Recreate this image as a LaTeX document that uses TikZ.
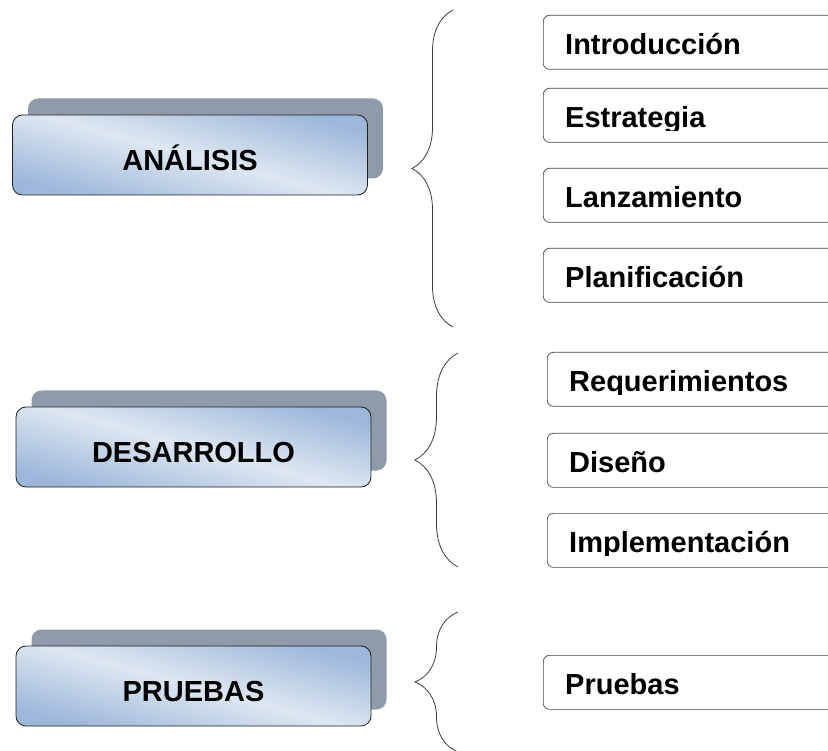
\documentclass[tikz,border=0pt]{standalone}
\usepackage{fontspec}
\setmainfont{Liberation Sans}
\usetikzlibrary{positioning,calc,decorations.pathreplacing,shadows}
\definecolor{phaseshadow}{RGB}{143,155,171}
\definecolor{phaseblue}{RGB}{156,183,217}
\definecolor{phaselight}{RGB}{222,231,243}
\definecolor{lineblack}{RGB}{30,30,30}
\definecolor{bracegray}{RGB}{60,60,60}

\begin{document}
\begin{tikzpicture}[x=1pt, y=-1pt, font=\bfseries\fontsize{29}{31}\selectfont,
		phase/.style={draw=lineblack, line width=0.8pt, rounded corners=10pt, minimum width=355pt, minimum height=80pt, inner sep=0pt, text height=31pt, text depth=0pt, top color=phaseblue, bottom color=phaseblue, middle color=phaselight, shading angle=-15, general shadow={fill=phaseshadow, shadow xshift=15.5pt, shadow yshift=16.5pt}},
		task/.style={draw=lineblack!80, line width=0.7pt, rounded corners=6pt, minimum width=300pt, minimum height=54pt, anchor=north west},
		tasklabel/.style={anchor=base west, inner sep=0pt},
		phasebrace/.style={draw=bracegray, line width=0.8pt, decorate, decoration={brace, amplitude=#1}}]
				\useasboundingbox (0,0) rectangle (828,751);
				\clip (0,0) rectangle (828,751);
				
				% Draw phases
				\node[phase] (analisis) at (190,155) {ANÁLISIS};
				\node[phase] (desarrollo) at (193.5,447) {DESARROLLO};
				\node[phase] (pruebas) at (193.5,686) {PRUEBAS};
				
				% Draw braces
				\draw[phasebrace=41pt] (453,327) -- (453,10);
				\draw[phasebrace=43pt] (458,567) -- (458,353);
				\draw[phasebrace=43pt] (458,752) -- (458,612);
				
				% Analysis tasks
				\node[task] (introduccion) at (543,15) {};
				\node[tasklabel] (introduccionText) at ([xshift=22pt, yshift=15pt]introduccion.south west) {Introducción};
				\node[task] (estrategia) at (543,88) {};
				\begin{scope}
					\clip (estrategia.north west) rectangle ([yshift=12.5pt]estrategia.south east);
					\node[tasklabel] (estrategiaText) at ([xshift=22pt, yshift=15pt]estrategia.south west) {Estrategia};
				\end{scope}
				\node[task] (lanzamiento) at (543,168) {};
				\node[tasklabel] (lanzamientoText) at ([xshift=22pt, yshift=15pt]lanzamiento.south west) {Lanzamiento};
				\node[task] (planificacion) at (543,248) {};
				\node[tasklabel] (planificacionText) at ([xshift=22pt, yshift=15pt]planificacion.south west) {Planificación};
				
				% Development tasks
				\node[task] (requerimientos) at (547,352) {};
				\begin{scope}
					\clip (requerimientos.north west) rectangle ([yshift=12.5pt]requerimientos.south east);
					\node[tasklabel] (requerimientosText) at ([xshift=22pt, yshift=15pt]requerimientos.south west) {Requerimientos};
				\end{scope}
				\node[task] (diseno) at (547,433) {};
				\node[tasklabel] (disenoText) at ([xshift=22pt, yshift=15pt]diseno.south west) {Diseño};
				\node[task] (implementacion) at (547,513) {};
				\begin{scope}
					\clip (implementacion.north west) rectangle ([yshift=12.5pt]implementacion.south east);
					\node[tasklabel] (implementacionText) at ([xshift=22pt, yshift=15pt]implementacion.south west) {Implementación};
				\end{scope}
				
				% Testing task
				\node[task] (pruebasTarea) at (543,655) {};
				\node[tasklabel] (pruebasTareaText) at ([xshift=22pt, yshift=15pt]pruebasTarea.south west) {Pruebas};
			\end{tikzpicture}
\end{document}
